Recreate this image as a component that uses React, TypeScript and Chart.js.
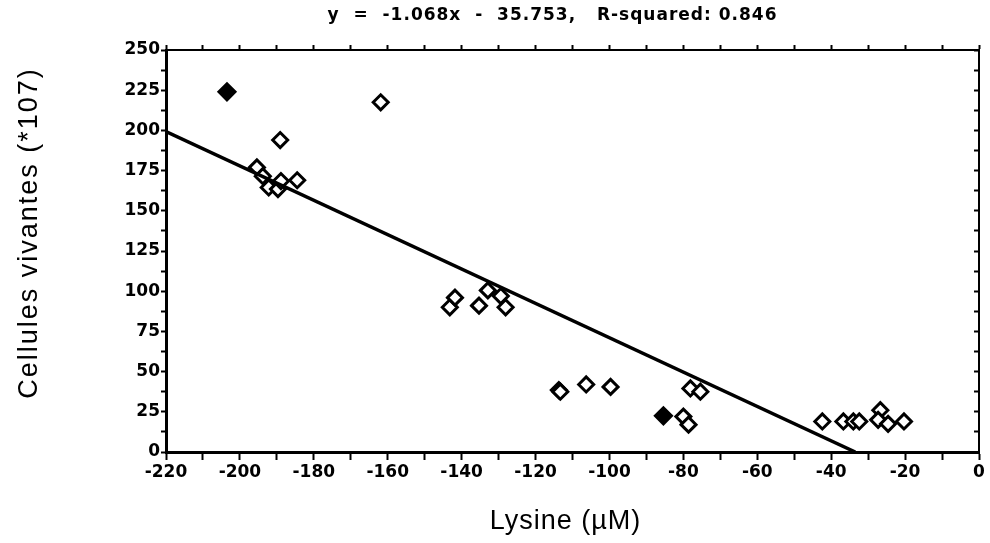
import React, { useEffect, useRef } from "react";
import { Chart, registerables } from "chart.js";

Chart.register(...registerables);

// Fit line (from the chart title)
const SLOPE = -1.068;
const INTERCEPT = -35.753;
const R_SQUARED = 0.846;

// Open diamond points
const openX = [
  -161.9, -189.1, -195.4, -193.8, -192.2, -189.7, -188.9, -184.5,
  -143.2, -141.8, -135.3, -132.9, -129.4, -128.1,
  -113.7, -113.3, -106.3, -99.7,
  -78.1, -75.4, -80.0, -78.6,
  -42.4, -36.7, -34.0, -32.4, -26.7, -27.3, -24.6, -20.3,
];
const openY = [
  217.5, 194, 177, 171.5, 164.5, 163.5, 168.5, 169,
  90, 96, 91, 100.5, 97, 90,
  38.5, 37.5, 42, 40.5,
  39.5, 37.5, 22, 17,
  19, 19, 19, 19, 26, 20, 17.5, 19,
];
// Overlapping points that appear solid
const filledX = [-203.5, -85.4];
const filledY = [224, 22.5];

const X_MIN = -220;
const X_MAX = 0;
const Y_MIN = 0;
const Y_MAX = 250;
const X_TICK_LABELS = [-220, -200, -180, -160, -140, -120, -100, -80, -60, -40, -20, 0];
const Y_TICK_LABELS = [0, 25, 50, 75, 100, 125, 150, 175, 200, 225, 250];

const TITLE = `y  =  ${SLOPE.toFixed(3)}x  -  ${Math.abs(INTERCEPT).toFixed(3)},   R-squared: ${R_SQUARED.toFixed(3)}`;
const X_TITLE = "Lysine (µM)";
const Y_TITLE = "Cellules vivantes (*107)";

const textPlugin = {
  id: "customTexts",
  afterDraw(chart: any) {
    const { ctx, chartArea } = chart;
    ctx.save();
    ctx.fillStyle = "#000";
    ctx.textAlign = "center";
    ctx.textBaseline = "middle";
    ctx.font = 'bold 17px "DejaVu Sans"';
    (ctx as any).letterSpacing = "1px";
    ctx.fillText(TITLE, chartArea.left + (chartArea.right - chartArea.left) / 2 - 20, 16);
    ctx.font = '27px "Liberation Sans"';
    (ctx as any).letterSpacing = "1px";
    ctx.fillText(X_TITLE, chartArea.left + (chartArea.right - chartArea.left) / 2 - 7, 522);
    ctx.translate(30, 233);
    ctx.rotate(-Math.PI / 2);
    (ctx as any).letterSpacing = "2px";
    ctx.fillText(Y_TITLE, 0, 0);
    ctx.restore();
  },
};

export default function App() {
  const ref = useRef<HTMLCanvasElement | null>(null);
  useEffect(() => {
    if (!ref.current) return;
    const xZero = -INTERCEPT / SLOPE;
    const chart = new Chart(ref.current, {
      type: "scatter",
      data: {
        datasets: [
          {
            type: "line",
            data: [
              { x: X_MIN, y: SLOPE * X_MIN + INTERCEPT },
              { x: xZero, y: 0 },
            ],
            borderColor: "#000",
            borderWidth: 3.5,
            pointRadius: 0,
            fill: false,
          } as any,
          {
            data: openX.map((x, i) => ({ x, y: openY[i] })),
            pointStyle: "rectRot",
            pointRadius: 7.5,
            borderWidth: 3,
            borderColor: "#000",
            backgroundColor: "#fff",
          },
          {
            data: filledX.map((x, i) => ({ x, y: filledY[i] })),
            pointStyle: "rectRot",
            pointRadius: 8,
            borderWidth: 3,
            borderColor: "#000",
            backgroundColor: "#000",
          },
        ],
      },
      options: {
        animation: false,
        responsive: true,
        maintainAspectRatio: false,
        layout: { padding: { top: 50, left: 0, right: 10, bottom: 0 } },
        plugins: {
          legend: { display: false },
          tooltip: { enabled: false },
          title: { display: false },
        },
        scales: {
          x: {
            type: "linear",
            position: "bottom",
            min: X_MIN,
            max: X_MAX,
            afterFit: (s: any) => { s.height = 91; },
            border: { display: true, color: "#000", width: 3 },
            grid: {
              display: true,
              drawOnChartArea: false,
              drawTicks: true,
              tickLength: 8,
              tickWidth: 2,
              color: "#000",
            },
            ticks: {
              stepSize: 10,
              autoSkip: false,
              maxRotation: 0,
              padding: 2,
              color: "#000",
              font: { family: "DejaVu Sans", weight: "bold", size: 17 },
              callback: (v: any) => (X_TICK_LABELS.includes(Number(v)) ? String(v) : ""),
            },
          },
          x2: {
            type: "linear",
            position: "top",
            min: X_MIN,
            max: X_MAX,
            afterFit: (s: any) => { s.height = 0; },
            border: { display: true, color: "#000", width: 2 },
            grid: {
              display: true,
              drawOnChartArea: false,
              drawTicks: true,
              tickLength: 5,
              tickWidth: 2,
              color: "#000",
            },
            ticks: { stepSize: 10, display: false },
          },
          y: {
            type: "linear",
            position: "left",
            min: Y_MIN,
            max: Y_MAX,
            afterFit: (s: any) => { s.width = 166; },
            border: { display: true, color: "#000", width: 3 },
            grid: {
              display: true,
              drawOnChartArea: false,
              drawTicks: true,
              tickLength: 5,
              tickWidth: 2,
              color: "#000",
            },
            ticks: {
              stepSize: 12.5,
              autoSkip: false,
              padding: 1,
              color: "#000",
              font: { family: "DejaVu Sans", weight: "bold", size: 17 },
              callback: (v: any) => (Y_TICK_LABELS.includes(Number(v)) ? String(v) : ""),
            },
          },
          y2: {
            type: "linear",
            position: "right",
            min: Y_MIN,
            max: Y_MAX,
            afterFit: (s: any) => { s.width = 0; },
            border: { display: true, color: "#000", width: 2 },
            grid: {
              display: true,
              drawOnChartArea: false,
              drawTicks: true,
              tickLength: -5,
              tickWidth: 2,
              color: "#000",
            },
            ticks: { stepSize: 12.5, display: false },
          },
        },
      },
      plugins: [textPlugin],
    } as any);
    return () => chart.destroy();
  }, []);
  return (
    <div style={{ position: "fixed", left: 0, top: 0, width: 990, height: 543, background: "#fff" }}>
      <canvas ref={ref} />
    </div>
  );
}
